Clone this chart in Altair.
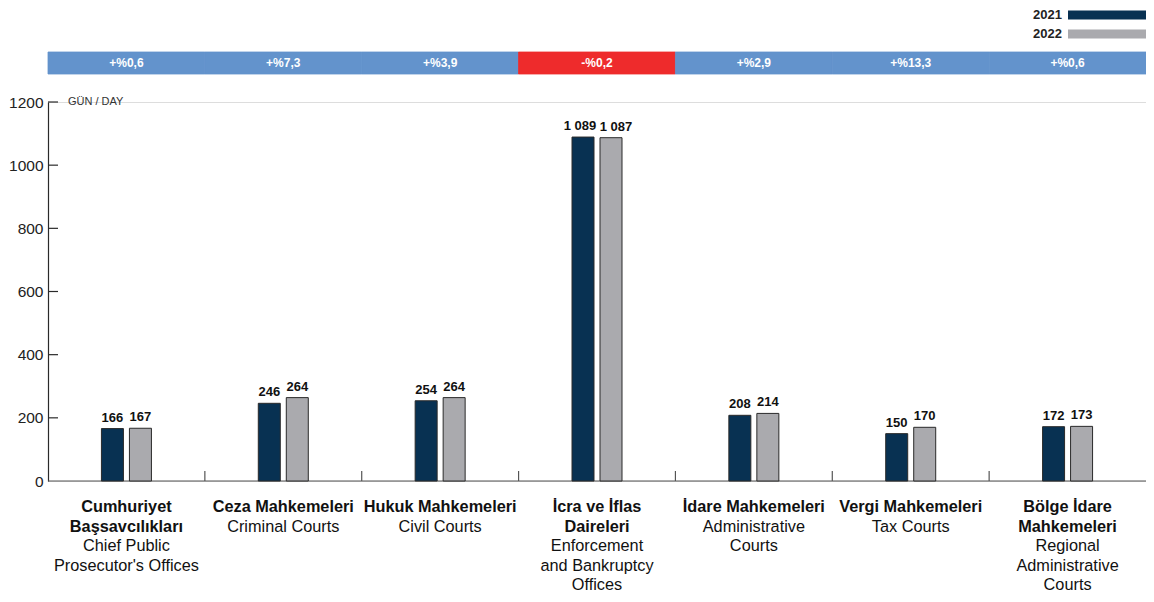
import altair as alt
import pandas as pd

# ---- data ----
cat_tr = [
    ["Cumhuriyet", "Başsavcılıkları"],
    ["Ceza Mahkemeleri"],
    ["Hukuk Mahkemeleri"],
    ["İcra ve İflas", "Daireleri"],
    ["İdare Mahkemeleri"],
    ["Vergi Mahkemeleri"],
    ["Bölge İdare", "Mahkemeleri"],
]
cat_en = [
    ["Chief Public", "Prosecutor's Offices"],
    ["Criminal Courts"],
    ["Civil Courts"],
    ["Enforcement", "and Bankruptcy", "Offices"],
    ["Administrative", "Courts"],
    ["Tax Courts"],
    ["Regional", "Administrative", "Courts"],
]
keys = ["c1", "c2", "c3", "c4", "c5", "c6", "c7"]
years = ["2021", "2022"]
values_2021 = [166, 246, 254, 1089, 208, 150, 172]
values_2022 = [167, 264, 264, 1087, 214, 170, 173]
pct_change = [0.6, 7.3, 3.9, -0.2, 2.9, 13.3, 0.6]
y_ticks = [0, 200, 400, 600, 800, 1000, 1200]
unit_label = "GÜN / DAY"
year_colors = ["#083152", "#aaaaae"]

# ---- layout ----
W, H = 1098, 379
BAND = W / len(keys)
STEP = 28
LH = 19.6
FONT = "Liberation Sans"
CAT_FS = 16.3

rows = []
for k, a, b in zip(keys, values_2021, values_2022):
    rows.append({"key": k, "year": years[0], "value": a})
    rows.append({"key": k, "year": years[1], "value": b})
bars_df = pd.DataFrame(rows)

cat_df = pd.DataFrame({
    "key": keys,
    "tr": cat_tr,
    "en": cat_en,
    "nb": [len(t) for t in cat_tr],
    "pct": pct_change,
})

xscale = alt.Scale(domain=keys, paddingInner=0, paddingOuter=0)
X = alt.X("key:N", scale=xscale, axis=None)
yscale = alt.Scale(domain=[0, 1200], nice=False, zero=True)
xoff_bar = alt.Scale(type="band", domain=years, paddingInner=0, paddingOuter=0,
                     range=[BAND / 2 - STEP, BAND / 2 + STEP])
xoff_lbl = alt.Scale(type="point", domain=years, padding=0,
                     range=[BAND / 2 - STEP / 2, BAND / 2 + STEP / 2])
xoff_lbl_wide = alt.Scale(type="point", domain=years, padding=0,
                          range=[BAND / 2 - 17, BAND / 2 + 19])

bars = alt.Chart(bars_df).mark_bar(width=22, stroke="#2a2a2a", strokeWidth=1).encode(
    x=X,
    xOffset=alt.XOffset("year:N", scale=xoff_bar),
    y=alt.Y("value:Q", scale=yscale,
            axis=alt.Axis(values=y_ticks, format="d", ticks=False, grid=False, domain=True,
                          domainColor="#2a2a2a", domainWidth=1.2,
                          labelFont=FONT, labelFontSize=15.5, labelColor="#222222",
                          labelPadding=5, title=None)),
    color=alt.Color("year:N", scale=alt.Scale(domain=years, range=year_colors), legend=None),
)

label_calc = "replace(format(datum.value, ',d'), ',', ' ')"
bar_labels = alt.Chart(bars_df).transform_filter("datum.value < 1000").transform_calculate(
    lbl=label_calc
).mark_text(font=FONT, fontSize=13, fontWeight="bold", baseline="bottom", dy=-4, color="#111111").encode(
    x=X,
    xOffset=alt.XOffset("year:N", scale=xoff_lbl),
    y=alt.Y("value:Q", scale=yscale),
    text="lbl:N",
)
bar_labels_big = alt.Chart(bars_df).transform_filter("datum.value >= 1000").transform_calculate(
    lbl=label_calc
).mark_text(font=FONT, fontSize=13, fontWeight="bold", baseline="bottom", dy=-4, color="#111111").encode(
    x=X,
    xOffset=alt.XOffset("year:N", scale=xoff_lbl_wide),
    y=alt.Y("value:Q", scale=yscale),
    text="lbl:N",
)

# inward y ticks
tick_df = pd.DataFrame({"t": y_ticks[1:]})
yticks = alt.Chart(tick_df).mark_rule(color="#2a2a2a", strokeWidth=1.2).encode(
    y=alt.Y("t:Q", scale=yscale),
    x=alt.value(0),
    x2=alt.value(10),
)

# baseline
baseline = alt.Chart(tick_df).transform_filter("datum.t == 200").mark_rule(color="#555555", strokeWidth=1.2).encode(
    y=alt.value(H),
    x=alt.value(0),
    x2=alt.value(W),
)

# category separators (upward ticks)
sep = alt.Chart(cat_df).transform_filter("datum.key != 'c1'").mark_rule(color="#555555", strokeWidth=1.2).encode(
    x=alt.X("key:N", scale=xscale, axis=None, bandPosition=0),
    y=alt.value(H - 10),
    y2=alt.value(H),
)

# unit label
unit = alt.Chart(tick_df).transform_filter("datum.t == 1200").mark_text(
    font=FONT, fontSize=11, align="left", baseline="middle", color="#333333", text=unit_label
).encode(x=alt.value(20), y=alt.value(0))

# change band on top
band_color = alt.condition("datum.pct < 0", alt.value("#ee2b2c"), alt.value("#6393cc"))
band = alt.Chart(cat_df).mark_rect(strokeWidth=0.8).encode(
    x=X,
    y=alt.value(-50),
    y2=alt.value(-28),
    color=band_color,
    stroke=band_color,
)
band_text = alt.Chart(cat_df).transform_calculate(
    lbl="(datum.pct < 0 ? '-' : '+') + '%' + replace(format(abs(datum.pct), '.1f'), '.', ',')"
).mark_text(font=FONT, fontSize=12, fontWeight="bold", color="white", baseline="middle").encode(
    x=X, y=alt.value(-39), text="lbl:N",
)

# category labels
lab_top = H + 18
cat_bold = alt.Chart(cat_df).mark_text(
    font=FONT, fontSize=CAT_FS, fontWeight="bold", color="#111111", baseline="top", lineHeight=LH
).encode(x=X, y=alt.value(lab_top), text="tr")
cat_reg = alt.Chart(cat_df).transform_calculate(
    ypos=f"{lab_top} + datum.nb * {LH}"
).mark_text(
    font=FONT, fontSize=CAT_FS, color="#111111", baseline="top", lineHeight=LH
).encode(x=X, y=alt.Y("ypos:Q", scale=None), text="en")

# legend (custom)
leg_layers = []
for i, (yr, col) in enumerate(zip(years, year_colors)):
    ldf = pd.DataFrame({"year": [yr]})
    yc = -87 + i * 19
    leg_layers.append(alt.Chart(ldf).mark_rect(color=col).encode(
        x=alt.value(W - 78), x2=alt.value(W), y=alt.value(yc - 4.5), y2=alt.value(yc + 4.5)))
    leg_layers.append(alt.Chart(ldf).mark_text(
        font=FONT, fontSize=13, fontWeight="bold", color="#222222", align="right", baseline="middle"
    ).encode(x=alt.value(W - 84), y=alt.value(yc), text="year:N"))

chart = alt.layer(
    band, band_text, baseline, sep, bars, bar_labels, bar_labels_big, yticks, unit,
    cat_bold, cat_reg, *leg_layers
).resolve_scale(xOffset="independent").properties(
    width=W, height=H,
    autosize=alt.AutoSizeParams(type="none"),
    padding={"left": 40, "top": 94, "right": 0, "bottom": 116},
).configure_view(stroke=None).configure(background="white")

chart.save("out.html", embed_options={"renderer": "svg", "actions": False})
